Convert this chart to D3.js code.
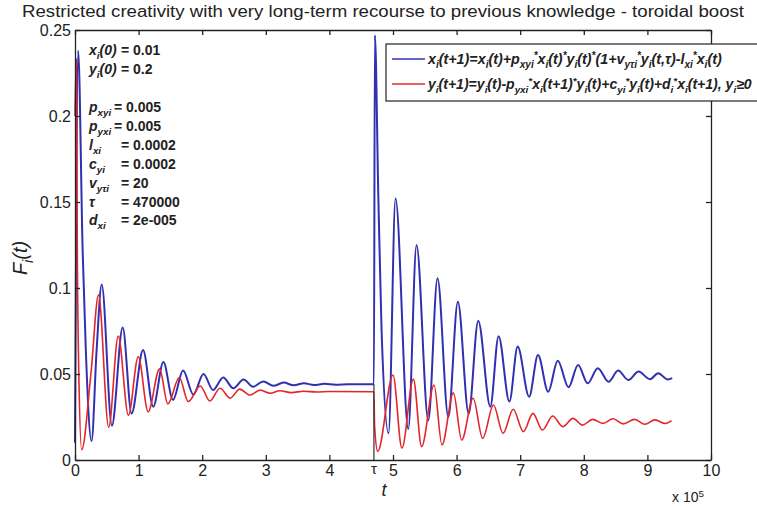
<!DOCTYPE html>
<html>
<head>
<meta charset="utf-8">
<script src="https://cdn.jsdelivr.net/npm/d3@7"></script>
<style>
body { margin: 0; background: #fff; }
svg { display: block; font-family: "Liberation Sans", Arial, Helvetica, sans-serif; }
</style>
</head>
<body>
<div id="chart"></div>
<script>
// values, t is in units of 10^5
var xTicks = [0, 1, 2, 3, 4, 5, 6, 7, 8, 9, 10];
var yTicks = [0, 0.05, 0.1, 0.15, 0.2, 0.25];
var yTickLabels = ["0", "0.05", "0.1", "0.15", "0.2", "0.25"];
var tau = 4.7;
var tauLineTop = 0.044;

var blueSeries = [
  [0, 0.010], [0.05, 0.238], [0.12, 0.122], [0.17, 0.064], [0.26, 0.011],
  [0.34, 0.064], [0.42, 0.102], [0.58, 0.020], [0.75, 0.077], [0.89, 0.027],
  [1.07, 0.064], [1.23, 0.031], [1.39, 0.057], [1.54, 0.035], [1.70, 0.052],
  [1.86, 0.038], [2.02, 0.050], [2.17, 0.0407], [2.33, 0.048], [2.49, 0.0417],
  [2.65, 0.0468], [2.80, 0.0426], [2.96, 0.0457], [3.12, 0.0431], [3.28, 0.0450],
  [3.44, 0.0434], [3.60, 0.0446], [3.76, 0.0436], [3.92, 0.0443], [4.10, 0.0438],
  [4.30, 0.0441], [4.70, 0.0440], [4.715, 0.247], [4.77, 0.152], [4.82, 0.076],
  [4.93, 0.0155], [5.04, 0.152], [5.24, 0.018], [5.37, 0.125], [5.555, 0.023],
  [5.70, 0.1056], [5.87, 0.025], [6.02, 0.092], [6.19, 0.027], [6.34, 0.081],
  [6.53, 0.031], [6.66, 0.072], [6.83, 0.034], [6.96, 0.066], [7.14, 0.0368],
  [7.28, 0.061], [7.44, 0.0397], [7.59, 0.0577], [7.76, 0.0423], [7.91, 0.0552],
  [8.06, 0.0446], [8.22, 0.0533], [8.39, 0.0455], [8.54, 0.052], [8.70, 0.0465],
  [8.86, 0.0514], [9.04, 0.047], [9.17, 0.0504], [9.32, 0.0468], [9.39, 0.0476]
];

var redSeries = [
  [0, 0.200], [0.02, 0.233], [0.036, 0.122], [0.06, 0.050], [0.105, 0.006],
  [0.25, 0.050], [0.37, 0.096], [0.53, 0.019], [0.68, 0.072], [0.84, 0.026],
  [0.995, 0.060], [1.15, 0.028], [1.33, 0.053], [1.46, 0.0326], [1.64, 0.048],
  [1.78, 0.034], [1.97, 0.043], [2.12, 0.0343], [2.28, 0.0417], [2.44, 0.036],
  [2.59, 0.0412], [2.75, 0.0378], [2.91, 0.0406], [3.07, 0.0388], [3.22, 0.0403],
  [3.40, 0.0392], [3.60, 0.0400], [3.80, 0.0395], [4.00, 0.0398], [4.70, 0.0397],
  [4.71, 0.020], [4.76, 0.005], [5.00, 0.0494], [5.14, 0.0068], [5.32, 0.047],
  [5.45, 0.0078], [5.645, 0.0436], [5.77, 0.0087], [5.95, 0.039], [6.08, 0.0116],
  [6.26, 0.0359], [6.41, 0.0126], [6.58, 0.032], [6.73, 0.0155], [6.89, 0.0295],
  [7.05, 0.0165], [7.20, 0.0271], [7.35, 0.0174], [7.51, 0.0256], [7.67, 0.0194],
  [7.83, 0.0242], [7.98, 0.0203], [8.14, 0.0236], [8.30, 0.0213], [8.46, 0.0240],
  [8.62, 0.021], [8.80, 0.0236], [8.96, 0.0208], [9.12, 0.0233], [9.28, 0.0212],
  [9.38, 0.0229]
];

var legendLabels = [
  "x_i(t+1)=x_i(t)+p_{xyi}^*x_i(t)^*y_i(t)^*(1+v_{y\u03c4i}^*y_i(t,\u03c4)-l_{xi}^*x_i(t)",
  "y_i(t+1)=y_i(t)-p_{yxi}^*x_i(t+1)^*y_i(t)+c_{yi}^*y_i(t)+d_i^*x_i(t+1), y_i\u22650"
];
var paramLabels = ["x_i(0)", "y_i(0)", "p_{xyi}", "p_{yxi}", "l_{xi}", "c_{yi}", "v_{y\u03c4i}", "\u03c4", "d_{xi}"];
var paramValues = ["= 0.01", "= 0.2", "= 0.005", "= 0.005", "= 0.0002", "= 0.0002", "= 20", "= 470000", "= 2e-005"];

var titleText = "Restricted creativity with very long-term recourse to previous knowledge - toroidal boost";

// set the dimensions and margins of the graph
var margin = {top: 30, right: 46, bottom: 50, left: 75},
    width = 757 - margin.left - margin.right,
    height = 510 - margin.top - margin.bottom;

var root = d3.select("#chart")
    .append("svg")
    .attr("width", 757)
    .attr("height", 510);

var svg = root.append("g")
    .attr("transform", "translate(" + margin.left + "," + margin.top + ")");

var x = d3.scaleLinear().domain([0, 10]).range([0, width]);
var y = d3.scaleLinear().domain([0, 0.25]).range([height, 0]);

// little TeX-like writer: _{..} subscript, ^{..} superscript
function tex(textSel, str, fs) {
  var parts = [], i = 0, buf = "";
  while (i < str.length) {
    var c = str[i];
    if (c === "_" || c === "^") {
      if (buf) parts.push({t: buf, m: 0});
      buf = "";
      var s;
      if (str[i + 1] === "{") {
        var j = str.indexOf("}", i);
        s = str.slice(i + 2, j);
        i = j + 1;
      } else {
        s = str[i + 1];
        i += 2;
      }
      parts.push({t: s, m: c === "_" ? 1 : -1});
    } else {
      buf += c;
      i++;
    }
  }
  if (buf) parts.push({t: buf, m: 0});
  var cur = 0;
  parts.forEach(function(p) {
    var off = p.m === 1 ? 0.3 * fs : (p.m === -1 ? -0.35 * fs : 0);
    textSel.append("tspan")
        .attr("dy", off - cur)
        .style("font-size", (p.m === 0 ? fs : fs * 0.7) + "px")
        .text(p.t);
    cur = off;
  });
}

// curves
var line = d3.line()
    .x(function(d) { return x(d[0]); })
    .y(function(d) { return y(d[1]); })
    .curve(d3.curveMonotoneX);

svg.append("path")
    .datum(blueSeries)
    .attr("fill", "none")
    .attr("stroke", "#3030b0")
    .attr("stroke-width", 2)
    .attr("d", line);

svg.append("path")
    .datum(redSeries)
    .attr("fill", "none")
    .attr("stroke", "#e3262b")
    .attr("stroke-width", 1.6)
    .attr("d", line);

// vertical marker at tau
svg.append("line")
    .attr("x1", x(tau)).attr("x2", x(tau))
    .attr("y1", y(0)).attr("y2", y(tauLineTop))
    .attr("stroke", "#333")
    .attr("stroke-width", 1.2);

// axes, matlab style ticks inside on all four sides
var xAxis = svg.append("g")
    .attr("transform", "translate(0," + height + ")")
    .call(d3.axisBottom(x).tickValues(xTicks).tickSizeInner(-5).tickSizeOuter(0).tickPadding(5)
      .tickFormat(d3.format("d")));
var xAxisTop = svg.append("g")
    .call(d3.axisTop(x).tickValues(xTicks).tickSizeInner(-5).tickSizeOuter(0).tickFormat(""));
var yAxis = svg.append("g")
    .call(d3.axisLeft(y).tickValues(yTicks).tickSizeInner(-5).tickSizeOuter(0).tickPadding(4)
      .tickFormat(function(d, i) { return yTickLabels[i]; }));
var yAxisRight = svg.append("g")
    .attr("transform", "translate(" + width + ",0)")
    .call(d3.axisRight(y).tickValues(yTicks).tickSizeInner(-5).tickSizeOuter(0).tickFormat(""));

[xAxis, xAxisTop, yAxis, yAxisRight].forEach(function(a) {
  a.selectAll("path, line").attr("stroke", "#222").attr("stroke-width", 1.3);
  a.selectAll("text").style("font-size", "16px").attr("fill", "#222")
      .style("font-family", "'Liberation Sans', Arial, sans-serif");
});

// tau label under the axis
svg.append("text")
    .attr("x", x(tau))
    .attr("y", height + 14)
    .attr("text-anchor", "middle")
    .style("font-size", "15px")
    .attr("fill", "#222")
    .text("\u03c4");

// axis labels
svg.append("text")
    .attr("x", x(tau) + 10)
    .attr("y", height + 36)
    .attr("text-anchor", "middle")
    .style("font-size", "18px")
    .style("font-style", "italic")
    .attr("fill", "#222")
    .text("t");

var expLabel = svg.append("text")
    .attr("x", 597)
    .attr("y", height + 42)
    .style("font-size", "14px")
    .attr("fill", "#222");
tex(expLabel, "x 10^5", 14);

var yLab = root.append("text")
    .attr("transform", "translate(27,258) rotate(-90)")
    .attr("text-anchor", "middle")
    .style("font-size", "20px")
    .style("font-style", "italic")
    .attr("fill", "#222");
tex(yLab, "F_i(t)", 20);

// title
root.append("text")
    .attr("x", 383)
    .attr("y", 17)
    .attr("text-anchor", "middle")
    .attr("textLength", 722)
    .attr("lengthAdjust", "spacingAndGlyphs")
    .style("font-size", "16px")
    .attr("fill", "#222")
    .text(titleText);

// parameter annotations
var paramY = [55, 74, 112, 131, 150, 169, 188, 207, 225];
var paramValX = [121, 121, 114, 114, 121, 121, 121, 121, 121];
paramLabels.forEach(function(lab, i) {
  var t = root.append("text")
      .attr("x", 89)
      .attr("y", paramY[i])
      .style("font-weight", "bold")
      .style("font-style", "italic")
      .attr("fill", "#222");
  tex(t, lab, 14);
  root.append("text")
      .attr("x", paramValX[i])
      .attr("y", paramY[i])
      .style("font-weight", "bold")
      .style("font-size", "14px")
      .attr("fill", "#222")
      .text(paramValues[i]);
});

// legend
var legend = root.append("g");
legend.append("rect")
    .attr("x", 386).attr("y", 44)
    .attr("width", 400).attr("height", 57)
    .attr("fill", "#fff")
    .attr("stroke", "#222")
    .attr("stroke-width", 1.2);
var legColors = ["#3030b0", "#e3262b"];
var legTargets = [294, 324];
legendLabels.forEach(function(lab, i) {
  var ly = 59 + i * 25;
  legend.append("line")
      .attr("x1", 392).attr("x2", 425)
      .attr("y1", ly).attr("y2", ly)
      .attr("stroke", legColors[i])
      .attr("stroke-width", 1.6);
  var t = legend.append("text")
      .attr("x", 428)
      .attr("y", ly + 5)
      .style("font-style", "italic")
      .style("font-weight", "bold")
      .attr("fill", "#222");
  tex(t, lab, 13);
  var w = t.node().getComputedTextLength();
  if (w > 0) {
    var fs = 13 * legTargets[i] / w;
    t.selectAll("tspan").remove();
    tex(t, lab, fs);
  }
});
</script>
</body>
</html>
